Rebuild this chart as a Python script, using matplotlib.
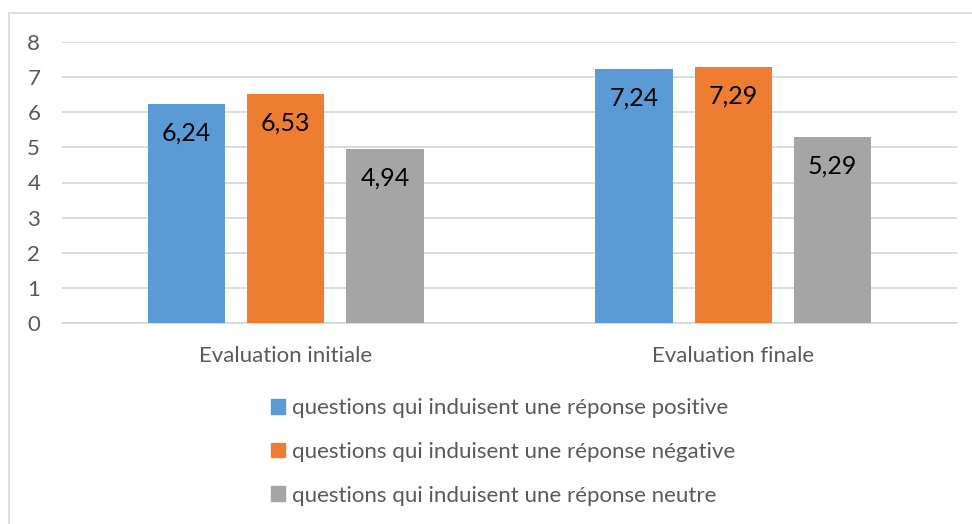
import matplotlib
matplotlib.use("Agg")
import matplotlib.pyplot as plt
from matplotlib.patches import Rectangle
import numpy as np

categories = ["Evaluation initiale", "Evaluation finale"]
series_names = ["questions qui induisent une réponse positive",
                "questions qui induisent une réponse négative",
                "questions qui induisent une réponse neutre"]
positive = [6.24, 7.24]
negative = [6.53, 7.29]
neutre = [4.94, 5.29]
labels_pos = ["6,24", "7,24"]
labels_neg = ["6,53", "7,29"]
labels_neu = ["4,94", "5,29"]
yticks = [0, 1, 2, 3, 4, 5, 6, 7, 8]

colors = ["#5B9BD5", "#ED7D31", "#A5A5A5"]

plt.rcParams['font.family'] = ['Lato', 'DejaVu Sans']

fig = plt.figure(figsize=(9.72, 5.24), dpi=100)
fig.patches.append(Rectangle((9/972, -0.1), 1.2, 1 - 13/524 + 0.1, transform=fig.transFigure,
                             fill=False, edgecolor="#D9D9D9", linewidth=1.2))
ax = fig.add_axes([62/972, 1 - 323/524, (957 - 62)/972, (323 - 42)/524])

x = np.arange(len(categories))
width = 0.1725
step = 0.2217
all_vals = [positive, negative, neutre]
all_labels = [labels_pos, labels_neg, labels_neu]
for i, (vals, labs) in enumerate(zip(all_vals, all_labels)):
    xs = x + (i - 1) * step
    ax.bar(xs, vals, width=width, color=colors[i], label=series_names[i], zorder=3)
    for xi, v, lab in zip(xs, vals, labs):
        ax.annotate(lab, (xi, v), xytext=(0, -29), textcoords="offset pixels",
                    ha="center", va="center", fontsize=18, color="#000000", zorder=4)

ax.set_xlim(-0.5, 1.5)
ax.set_ylim(0, 8)
ax.set_yticks(yticks)
ax.set_yticklabels([str(t) for t in yticks])
ax.set_xticks(x)
ax.set_xticklabels(categories)
ax.grid(axis="y", color="#D9D9D9", linewidth=1.3, zorder=0)
ax.set_axisbelow(True)
for s in ["top", "right", "left"]:
    ax.spines[s].set_visible(False)
ax.spines["bottom"].set_color("#D9D9D9")
ax.spines["bottom"].set_linewidth(1.3)
ax.tick_params(axis="both", length=0, labelsize=16, labelcolor="#595959")
ax.tick_params(axis="x", pad=16.5)
for lab in ax.get_yticklabels():
    lab.set_horizontalalignment("left")
ax.tick_params(axis="y", pad=25)

handles = [Rectangle((0, 0), 1, 1, color=c) for c in colors]
fig.legend(handles, series_names, loc="upper left",
           bbox_to_anchor=(271/972, 1 - 398/524), frameon=False,
           fontsize=16, labelcolor="#595959", handlelength=0.65, handleheight=0.65,
           handletextpad=0.3, labelspacing=1.07, borderpad=0, borderaxespad=0)

fig.savefig("out.png", dpi=100)
